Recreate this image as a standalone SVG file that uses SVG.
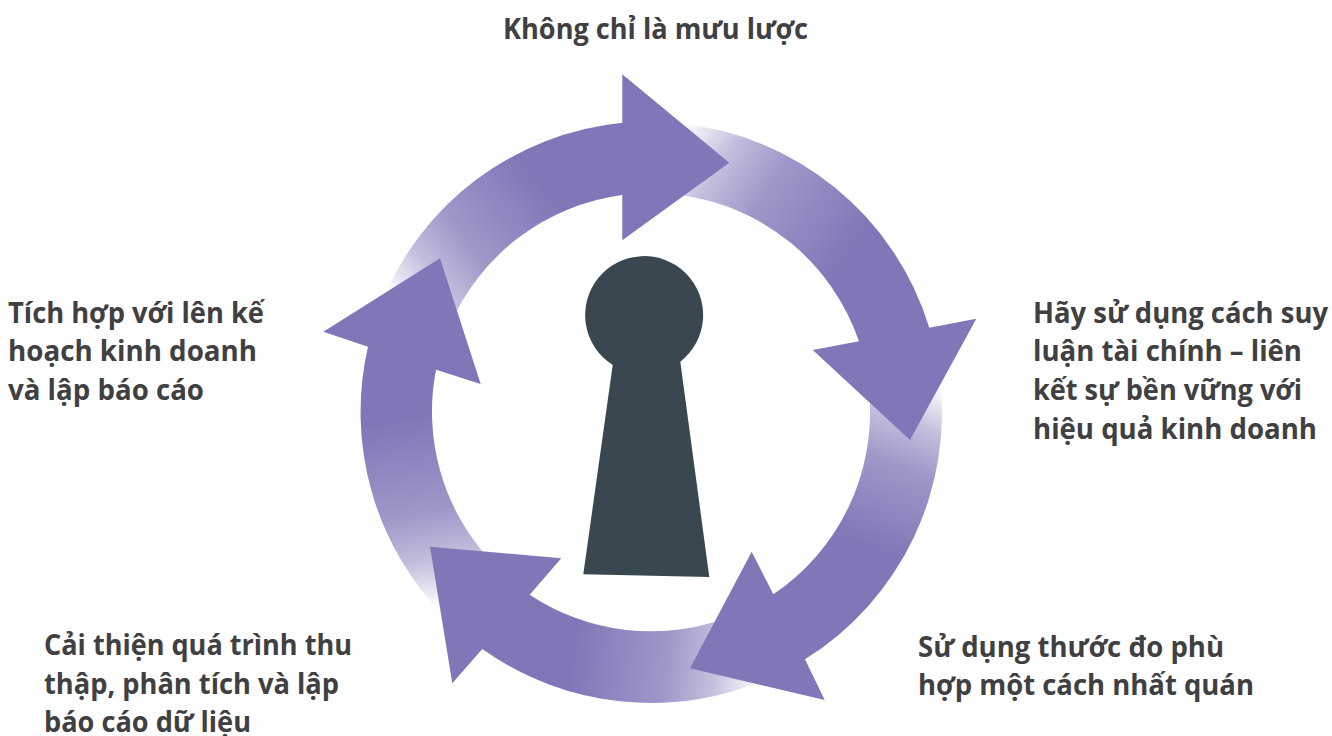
<svg xmlns="http://www.w3.org/2000/svg" xmlns:xlink="http://www.w3.org/1999/xlink" width="1332" height="736" viewBox="0 0 1332 736">
<style>
text{font-family:"Open Sans","Noto Sans","Liberation Sans",sans-serif;font-weight:700;font-size:28px;fill:#404042}
.arrow{stroke:none}
</style>
<defs>
<linearGradient id="fade"><stop offset="0" stop-color="#8176b7" stop-opacity="0"/><stop offset="0.25" stop-color="#8176b7" stop-opacity="0.47"/><stop offset="0.5" stop-color="#8176b7" stop-opacity="0.76"/><stop offset="1" stop-color="#8176b7"/></linearGradient>
<linearGradient id="g1" xlink:href="#fade" gradientUnits="userSpaceOnUse" x1="385" y1="290" x2="535" y2="175"/>
<linearGradient id="g2" xlink:href="#fade" gradientUnits="userSpaceOnUse" x1="683" y1="125" x2="859" y2="242"/>
<linearGradient id="g3" xlink:href="#fade" gradientUnits="userSpaceOnUse" x1="940" y1="387" x2="877" y2="551"/>
<linearGradient id="g4" xlink:href="#fade" gradientUnits="userSpaceOnUse" x1="760" y1="690" x2="570" y2="668"/>
<linearGradient id="g5" xlink:href="#fade" gradientUnits="userSpaceOnUse" x1="430" y1="610" x2="395" y2="420"/>
</defs>
<rect width="1332" height="736" fill="#ffffff"/>
<g id="connectors">
<path id="arrow-1" class="arrow" fill="url(#g1)" d="M381 304A291 291 0 0 1 622.3 122.7V74.3L729.3 162.7L622.3 240.3V195A219 219 0 0 0 450 325Z"/>
<path id="arrow-2" class="arrow" fill="url(#g2)" d="M680 123.5A291 291 0 0 1 929.3 327.7L976.3 318.7L910 440L812.7 350L859 341.3A219 219 0 0 0 680 195Z"/>
<path id="arrow-3" class="arrow" fill="url(#g3)" d="M939.6 375A291 291 0 0 1 805 659.3L824.7 700L690 668.3L751.7 551.7L773.3 594.3A219 219 0 0 0 869.3 395Z"/>
<path id="arrow-4" class="arrow" fill="url(#g4)" d="M770 677.6A291 291 0 0 1 482.3 649L452.3 683.3L430 546.7L561.3 558.3L529.7 594.7A219 219 0 0 0 725 618.4Z"/>
<path id="arrow-5" class="arrow" fill="url(#g5)" d="M445 617A291 291 0 0 1 368 346.7L323.3 331.7L440 258.3L480.7 384L436 369.7A219 219 0 0 0 490 560Z"/>
</g>
<g id="keyhole"><path fill="#394850" d="M612.7 365A59 59 0 1 1 680.3 361.7L709.3 577L583.3 574.3Z"/></g>
<g id="label-top"><text x="503" y="38.5" textLength="305" lengthAdjust="spacingAndGlyphs">Không chỉ là mưu lược</text></g>
<g id="label-right">
<text x="1033" y="322.5" textLength="295" lengthAdjust="spacingAndGlyphs">Hãy sử dụng cách suy</text>
<text x="1033" y="361" textLength="269" lengthAdjust="spacingAndGlyphs">luận tài chính – liên</text>
<text x="1033" y="400" textLength="269" lengthAdjust="spacingAndGlyphs">kết sự bền vững với</text>
<text x="1033" y="438.5" textLength="284" lengthAdjust="spacingAndGlyphs">hiệu quả kinh doanh</text>
</g>
<g id="label-bottom-right">
<text x="918" y="656.5" textLength="306" lengthAdjust="spacingAndGlyphs">Sử dụng thước đo phù</text>
<text x="918" y="695" textLength="336" lengthAdjust="spacingAndGlyphs">hợp một cách nhất quán</text>
</g>
<g id="label-bottom-left">
<text x="44" y="655" textLength="308" lengthAdjust="spacingAndGlyphs">Cải thiện quá trình thu</text>
<text x="44" y="693.5" textLength="295" lengthAdjust="spacingAndGlyphs">thập, phân tích và lập</text>
<text x="44" y="732" textLength="207" lengthAdjust="spacingAndGlyphs">báo cáo dữ liệu</text>
</g>
<g id="label-left">
<text x="8" y="322.5" textLength="256" lengthAdjust="spacingAndGlyphs">Tích hợp với lên kế</text>
<text x="8" y="361" textLength="249" lengthAdjust="spacingAndGlyphs">hoạch kinh doanh</text>
<text x="8" y="400" textLength="196" lengthAdjust="spacingAndGlyphs">và lập báo cáo</text>
</g>
</svg>
